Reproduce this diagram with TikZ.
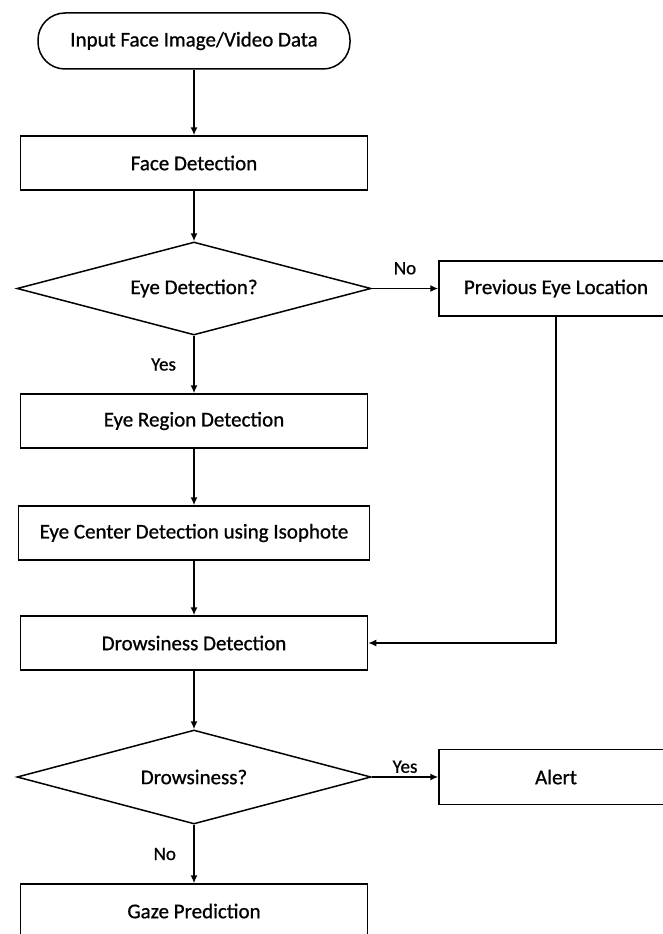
\documentclass[tikz,border=0pt]{standalone}
\usepackage{fontspec}
\setmainfont{Carlito}[FakeBold=0.8]
\usetikzlibrary{arrows.meta,positioning,shapes.geometric}

\begin{document}
\begin{tikzpicture}[
    x=1pt, y=1pt,
    node distance=56.5pt,
    base/.style={draw, line width=1.5pt, align=center, inner sep=0pt, font=\fontsize{21}{24}\selectfont},
    startbox/.style={base, rounded corners=27pt, minimum width=312pt, minimum height=56pt},
    procbox/.style={base, minimum width=347pt, minimum height=54pt},
    sidebox/.style={base, minimum width=234pt, minimum height=55pt},
    decision/.style={base, diamond, aspect=3.8, minimum width=354pt, minimum height=93pt},
    lbl/.style={font=\fontsize{19}{21}\selectfont},
    edge/.style={-{Latex[length=8pt,width=7pt]}, line width=1.5pt}
]
\useasboundingbox (0,0) rectangle (662,-934);

\node[startbox] (input) at (194,-41) {Input Face Image/Video Data};
\node[procbox, below=65.5pt of input] (face) {Face Detection};
\node[decision, below=50.5pt of face] (eyedet) {Eye Detection?};
\node[sidebox, right=66.5pt of eyedet] (prevloc) {Previous Eye Location};
\node[procbox, below=57.5pt of eyedet] (eyereg) {Eye Region Detection};
\node[procbox, minimum width=351pt, below=of eyereg] (eyecen) {Eye Center Detection using Isophote};
\node[procbox, below=54.5pt of eyecen] (drowdet) {Drowsiness Detection};
\node[decision, minimum height=94pt, below=58.5pt of drowdet] (drowsy) {Drowsiness?};
\node[sidebox, right=66.5pt of drowsy] (alert) {Alert};
\node[procbox, below=58.5pt of drowsy] (gaze) {Gaze Prediction};

\draw[edge] (input) -- (face);
\draw[edge] (face) -- (eyedet);
\draw[edge] (eyedet) -- node[lbl, above=10pt] {No} (prevloc);
\draw[edge] (eyedet) -- node[lbl, left=14pt] {Yes} (eyereg);
\draw[edge] (eyereg) -- (eyecen);
\draw[edge] (eyecen) -- (drowdet);
\draw[edge] (prevloc.south) |- (drowdet.east);
\draw[edge] (drowdet) -- (drowsy);
\draw[edge] (drowsy) -- node[lbl, above=0pt] {Yes} (alert);
\draw[edge] (drowsy) -- node[lbl, left=14pt] {No} (gaze);
\end{tikzpicture}
\end{document}
